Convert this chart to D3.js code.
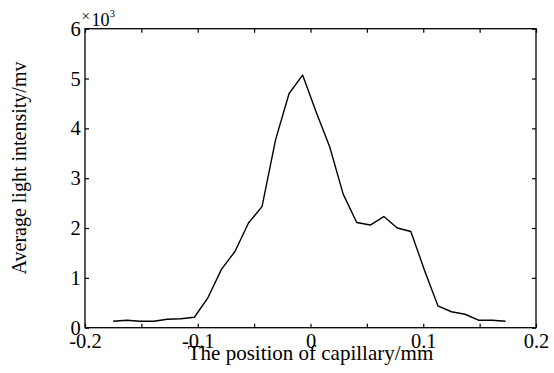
<!DOCTYPE html>
<html><head><meta charset="utf-8">
<script src="https://cdn.jsdelivr.net/npm/d3@7"></script>
<style>
body{margin:0;background:#fff;}
svg text{font-family:"Liberation Serif","Times New Roman",serif !important;fill:#000;}
</style></head>
<body>
<svg id="c" width="554" height="373" font-family="Liberation Serif, serif"></svg>
<script>
const positions = [-0.175,-0.163,-0.151,-0.139,-0.127,-0.115,-0.103,-0.091,-0.079,-0.067,-0.055,-0.043,-0.031,-0.019,-0.007,0.005,0.017,0.029,0.041,0.053,0.065,0.077,0.089,0.101,0.113,0.125,0.137,0.149,0.161,0.173];
const intensity = [0.13,0.15,0.13,0.13,0.17,0.18,0.21,0.60,1.17,1.53,2.10,2.43,3.77,4.70,5.07,4.33,3.63,2.68,2.11,2.06,2.23,2.00,1.93,1.16,0.44,0.32,0.27,0.15,0.15,0.13];
const xTicks = [-0.2,-0.15,-0.1,-0.05,0,0.05,0.1,0.15,0.2];
const xLabels = ["-0.2","","-0.1","","0","","0.1","","0.2"];
const yTicks = [0,1,2,3,4,5,6];
const yLabels = ["0","1","2","3","4","5","6"];

const svg = d3.select("#c");
const L=85, R=536, T=28.7, B=327.7;
const x = d3.scaleLinear().domain([-0.2,0.2]).range([L,R]);
const y = d3.scaleLinear().domain([0,6]).range([B,T]);

function styleAxis(g){
  g.attr("font-family","Liberation Serif, serif").attr("font-size",20.5);
  g.select(".domain").remove();
  g.selectAll("line").attr("stroke","#000").attr("stroke-width",1.2);
}
svg.append("g").attr("transform",`translate(0,${B})`)
  .call(d3.axisBottom(x).tickValues(xTicks).tickSizeInner(-4).tickSizeOuter(0).tickPadding(5.5)
    .tickFormat((d,i)=>xLabels[i]))
  .call(styleAxis);
svg.append("g").attr("transform",`translate(0,${T})`)
  .call(d3.axisTop(x).tickValues(xTicks).tickSizeInner(-4).tickSizeOuter(0).tickFormat(""))
  .call(styleAxis);
svg.append("g").attr("transform",`translate(${L},0)`)
  .call(d3.axisLeft(y).tickValues(yTicks).tickSizeInner(-4).tickSizeOuter(0).tickPadding(4.3)
    .tickFormat((d,i)=>yLabels[i]))
  .call(styleAxis);
svg.append("g").attr("transform",`translate(${R},0)`)
  .call(d3.axisRight(y).tickValues(yTicks).tickSizeInner(-4).tickSizeOuter(0).tickFormat(""))
  .call(styleAxis);

svg.append("rect").attr("x",L).attr("y",T).attr("width",R-L).attr("height",B-T)
  .attr("fill","none").attr("stroke","#000").attr("stroke-width",1.3);

const line = d3.line().x((d,i)=>x(positions[i])).y(d=>y(d));
svg.append("path").datum(intensity).attr("d",line)
  .attr("fill","none").attr("stroke","#000").attr("stroke-width",1.4).attr("stroke-linejoin","round");

svg.append("text").attr("x",81.5).attr("y",21).style("font-size","15px").text("×");
svg.append("text").attr("x",91.5).attr("y",25.5).style("font-size","18px").text("10");
svg.append("text").attr("x",109.8).attr("y",17).style("font-size","10.5px").text("3");

svg.append("text").attr("x",(L+R)/2).attr("y",360).attr("text-anchor","middle")
  .style("font-size","21px").text("The position of capillary/mm");
svg.append("text").attr("transform",`translate(25.5,168) rotate(-90)`).attr("text-anchor","middle")
  .style("font-size","20px").text("Average light intensity/mv");
</script>
</body></html>
